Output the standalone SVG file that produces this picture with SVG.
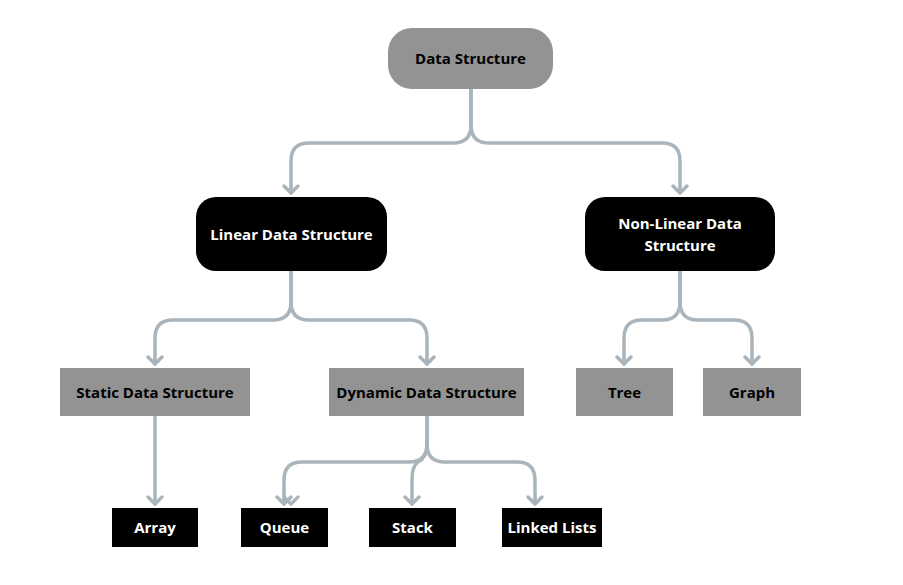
<svg xmlns="http://www.w3.org/2000/svg" width="903" height="585" viewBox="0 0 903 585">
<defs>
<marker id="ah" viewBox="0 0 12 10" refX="6" refY="8" markerWidth="12" markerHeight="10" markerUnits="userSpaceOnUse" orient="auto-start-reverse">
</marker>
<style>
.c{fill:none;stroke:#aab4bb;stroke-width:3.5;stroke-linecap:round;stroke-linejoin:round}
.h{fill:none;stroke:#aab4bb;stroke-width:3.5;stroke-linecap:round;stroke-linejoin:round}
.g{fill:#939393}
.b{fill:#000}
.tg{font-family:"Open Sans","Liberation Sans",sans-serif;font-weight:bold;font-size:15px;fill:#000;text-anchor:middle}
.tw{font-family:"Open Sans","Liberation Sans",sans-serif;font-weight:bold;font-size:15px;fill:#fff;text-anchor:middle}
</style>
</defs>
<rect width="903" height="585" fill="#fff"/>
<g id="connectors">
<path class="c" d="M471 89 V125 Q471 143 453 143 H309 Q291 143 291 161 V193"/>
<path class="c" d="M471 89 V125 Q471 143 489 143 H662 Q680 143 680 161 V193"/>
<path class="c" d="M291 271 V302 Q291 320 273 320 H173 Q155 320 155 338 V364"/>
<path class="c" d="M291 271 V302 Q291 320 309 320 H409 Q427 320 427 338 V364"/>
<path class="c" d="M680 271 V302 Q680 320 662 320 H642 Q624 320 624 338 V364"/>
<path class="c" d="M680 271 V302 Q680 320 698 320 H734 Q752 320 752 338 V364"/>
<path class="c" d="M155 416 V504"/>
<path class="c" d="M427 416 V444 Q427 462 409 462 H302 Q284 462 284 480 V504"/>
<path class="c" d="M427 416 V444 Q427 462 445 462 H517 Q535 462 535 480 V504"/>
<path class="c" d="M427 444 Q427 458 418 462 Q412 466 412 480 V504"/>
<g class="h">
<polyline points="284,497 291,504 298,497" transform="translate(-7 0) translate(7 0)"/>
<polyline points="284,186 291,193 298,186"/>
<polyline points="673,186 680,193 687,186"/>
<polyline points="148,357 155,364 162,357"/>
<polyline points="420,357 427,364 434,357"/>
<polyline points="617,357 624,364 631,357"/>
<polyline points="745,357 752,364 759,357"/>
<polyline points="148,497 155,504 162,497"/>
<polyline points="277,497 284,504 291,497"/>
<polyline points="405,497 412,504 419,497"/>
<polyline points="528,497 535,504 542,497"/>
</g>
</g>
<g id="n-ds"><rect class="g" x="388" y="28" width="165" height="61" rx="24"/><text class="tg" x="470.5" y="64">Data Structure</text></g>
<g id="n-linear"><rect class="b" x="196" y="197" width="191" height="74" rx="20"/><text class="tw" x="291.5" y="240">Linear Data Structure</text></g>
<g id="n-nonlinear"><rect class="b" x="585" y="197" width="190" height="74" rx="20"/><text class="tw" x="680" y="229">Non-Linear Data</text><text class="tw" x="680" y="251">Structure</text></g>
<g id="n-static"><rect class="g" x="60" y="368" width="190" height="48"/><text class="tg" x="155" y="398">Static Data Structure</text></g>
<g id="n-dynamic"><rect class="g" x="329" y="368" width="195" height="48"/><text class="tg" x="426.5" y="398">Dynamic Data Structure</text></g>
<g id="n-tree"><rect class="g" x="576" y="368" width="97" height="48"/><text class="tg" x="624.5" y="398">Tree</text></g>
<g id="n-graph"><rect class="g" x="703" y="368" width="98" height="48"/><text class="tg" x="752" y="398">Graph</text></g>
<g id="n-array"><rect class="b" x="112" y="508" width="86" height="39"/><text class="tw" x="155" y="533">Array</text></g>
<g id="n-queue"><rect class="b" x="241" y="508" width="87" height="39"/><text class="tw" x="284.5" y="533">Queue</text></g>
<g id="n-stack"><rect class="b" x="369" y="508" width="87" height="39"/><text class="tw" x="412.5" y="533">Stack</text></g>
<g id="n-linked"><rect class="b" x="502" y="508" width="100" height="39"/><text class="tw" x="552" y="533">Linked Lists</text></g>
</svg>
